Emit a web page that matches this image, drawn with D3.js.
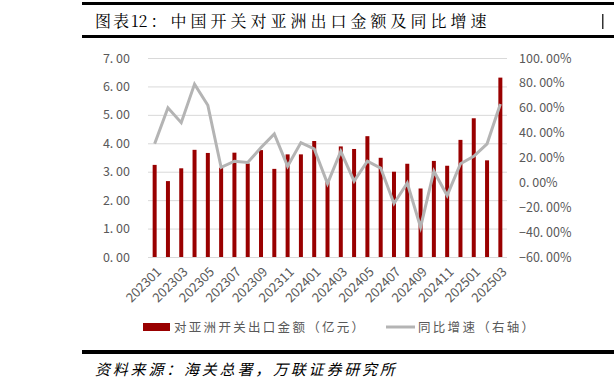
<!DOCTYPE html>
<html>
<head>
<meta charset="utf-8">
<script src="https://cdn.jsdelivr.net/npm/d3@7"></script>
<style>
  body { margin: 0; background: #fff; }
  text { font-family: "Noto Sans CJK SC", "Noto Sans", sans-serif; }
</style>
</head>
<body>
<script>
  var months = ['202301','202302','202303','202304','202305','202306','202307','202308','202309',
    '202310','202311','202312','202401','202402','202403','202404','202405','202406',
    '202407','202408','202409','202410','202411','202412','202501','202502','202503'];
  // 对亚洲开关出口金额（亿元）
  var exportValue = [3.24, 2.67, 3.12, 3.77, 3.66, 3.14, 3.67, 3.29, 3.76,
    3.10, 3.61, 3.61, 4.08, 2.65, 3.89, 3.80, 4.25, 3.49,
    3.00, 3.28, 2.41, 3.38, 3.21, 4.12, 4.88, 3.40, 6.31];
  // 同比增速（%）
  var yoyGrowth = [31, 60, 48, 79, 62, 12, 17, 16, 28,
    39, 13, 32, 27, -1, 25, 1, 17, 11.5,
    -17, -0.5, -36, 9, -10.5, 15, 21, 31, 63];
  var leftTicks = [0, 1, 2, 3, 4, 5, 6, 7];
  var rightTicks = [-60, -40, -20, 0, 20, 40, 60, 80, 100];

  var width = 614, height = 389;
  var svg = d3.select('body').append('svg').attr('width', width).attr('height', height);

  var plot = { left: 148, right: 507, top: 58, bottom: 257 };

  // header & footer rules
  svg.append('rect').attr('x', 82).attr('y', 2).attr('width', width - 82).attr('height', 3).attr('fill', '#000');
  svg.append('rect').attr('x', 82).attr('y', 35).attr('width', width - 82).attr('height', 3).attr('fill', '#000');
  svg.append('rect').attr('x', 82).attr('y', 350).attr('width', width - 82).attr('height', 4).attr('fill', '#000');
  // edge of the next page column
  svg.append('rect').attr('x', 602).attr('y', 14).attr('width', 1.5).attr('height', 15).attr('fill', '#333');

  var title = svg.append('text').attr('x', 95).attr('y', 27)
    .attr('font-size', 16).attr('fill', '#000')
    .style('font-family', '"Noto Serif CJK SC", "Noto Sans CJK SC", serif');
  title.append('tspan').attr('letter-spacing', 2).text('图表');
  title.append('tspan').attr('letter-spacing', 0).text('12');
  title.append('tspan').attr('letter-spacing', 4).attr('dx', 3).text('：中国开关对亚洲出口金额及同比增速');

  svg.append('text').attr('x', 95).attr('y', 375)
    .attr('font-size', 15).attr('letter-spacing', 2.8).attr('font-style', 'italic').attr('fill', '#000')
    .text('资料来源：海关总署，万联证券研究所');

  var x = d3.scaleBand().domain(months).range([plot.left, plot.right]).paddingInner(0.7).paddingOuter(0.35);
  var yL = d3.scaleLinear().domain([0, 7]).range([plot.bottom, plot.top]);
  var yR = d3.scaleLinear().domain([-60, 100]).range([plot.bottom, plot.top]);

  // grid
  svg.append('g').selectAll('line').data(leftTicks).enter().append('line')
    .attr('x1', plot.left).attr('x2', plot.right)
    .attr('y1', function (d) { return yL(d) + 0.5; }).attr('y2', function (d) { return yL(d) + 0.5; })
    .attr('stroke', '#d9d9d9').attr('stroke-width', 1);

  // left axis
  var axisL = svg.append('g').attr('transform', 'translate(' + (plot.left - 18) + ',0)')
    .call(d3.axisLeft(yL).tickValues(leftTicks).tickSize(0).tickPadding(0)
      .tickFormat(function (d) { return d3.format('.2f')(d).replace('.', '. '); }));
  axisL.select('.domain').remove();
  axisL.selectAll('text').attr('font-size', 12.5).attr('fill', '#595959').style('font-family', '"Noto Sans CJK SC", sans-serif');

  // right axis
  var axisR = svg.append('g').attr('transform', 'translate(' + (plot.right + 12) + ',0)')
    .call(d3.axisRight(yR).tickValues(rightTicks).tickSize(0).tickPadding(0)
      .tickFormat(function (d) { return d3.format('.2f')(d).replace('.', '. ') + '%'; }));
  axisR.select('.domain').remove();
  axisR.selectAll('text').attr('font-size', 12.5).attr('fill', '#595959').style('font-family', '"Noto Sans CJK SC", sans-serif');

  // bars
  svg.append('g').selectAll('rect').data(exportValue).enter().append('rect')
    .attr('x', function (d, i) { return x(months[i]); })
    .attr('width', x.bandwidth())
    .attr('y', function (d) { return yL(d); })
    .attr('height', function (d) { return yL(0) - yL(d); })
    .attr('fill', '#990000');

  // line
  var line = d3.line()
    .x(function (d, i) { return x(months[i]) + x.bandwidth() / 2; })
    .y(function (d) { return yR(d); });
  svg.append('path').datum(yoyGrowth).attr('d', line)
    .attr('fill', 'none').attr('stroke', '#b4b4b4').attr('stroke-width', 3).attr('stroke-linejoin', 'miter');

  // x labels
  var axisX = svg.append('g').attr('transform', 'translate(0,' + (plot.bottom + 12) + ')')
    .call(d3.axisBottom(x).tickValues(months.filter(function (d, i) { return i % 2 === 0; })).tickSize(0).tickPadding(0));
  axisX.select('.domain').remove();
  axisX.selectAll('text')
    .attr('font-size', 13).attr('fill', '#595959').attr('text-anchor', 'end')
    .attr('dy', '0.6em').attr('dx', '0.2em')
    .attr('transform', 'rotate(-45)')
    .style('font-family', '"Noto Sans CJK SC", sans-serif');

  // legend
  var legend = svg.append('g');
  legend.append('rect').attr('x', 143).attr('y', 323).attr('width', 27).attr('height', 8).attr('fill', '#990000');
  legend.append('text').attr('x', 174).attr('y', 331.5).attr('font-size', 12.5).attr('letter-spacing', 2.3)
    .attr('fill', '#595959').text('对亚洲开关出口金额（亿元）');
  legend.append('line').attr('x1', 386).attr('x2', 415).attr('y1', 327).attr('y2', 327)
    .attr('stroke', '#b4b4b4').attr('stroke-width', 3);
  legend.append('text').attr('x', 418).attr('y', 331.5).attr('font-size', 12.5).attr('letter-spacing', 2.3)
    .attr('fill', '#595959').text('同比增速（右轴）');
</script>
</body>
</html>
